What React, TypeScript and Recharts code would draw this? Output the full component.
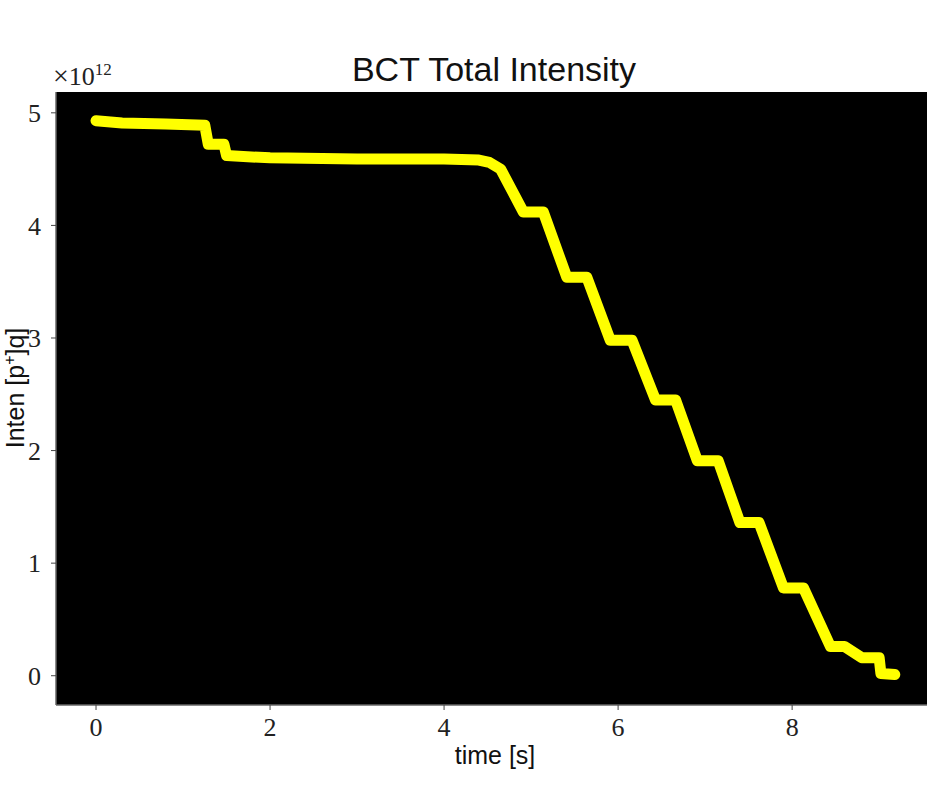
import React from 'react';
import { LineChart, Line, XAxis, YAxis, ReferenceArea } from 'recharts';

// beam current transformer readout, intensity in units of 1e12
const time = [0, 0.3, 0.8, 1.25, 1.29, 1.47, 1.5, 2, 3, 4, 4.4, 4.52, 4.65, 4.91, 5.14, 5.41, 5.64, 5.91, 6.16, 6.43, 6.66, 6.91, 7.15, 7.4, 7.62, 7.9, 8.13, 8.44, 8.6, 8.8, 9.0, 9.02, 9.18];
const intensity = [4.93, 4.91, 4.9, 4.89, 4.72, 4.72, 4.62, 4.6, 4.59, 4.59, 4.58, 4.56, 4.5, 4.12, 4.12, 3.54, 3.54, 2.98, 2.98, 2.45, 2.45, 1.91, 1.91, 1.36, 1.36, 0.78, 0.78, 0.26, 0.26, 0.16, 0.16, 0.02, 0.01];
const xTicks = [0, 2, 4, 6, 8];
const yTicks = [0, 1, 2, 3, 4, 5];

const xDomain = [-0.46, 9.55];
const yDomain = [-0.26, 5.185];

const data = time.map((t, i) => ({ t, v: intensity[i] }));

const serif = '"Liberation Serif", "DejaVu Serif", serif';
const sans = '"Liberation Sans", Arial, sans-serif';

const tickStyle = { fontFamily: serif, fontSize: 26, fill: '#222' };

const App = () => (
    <div style={{ position: 'absolute', left: 0, top: 0, width: 927, height: 785, overflow: 'hidden', background: '#fff' }}>
        <div style={{ position: 'absolute', left: 0, width: 988, top: 49, lineHeight: '40px', textAlign: 'center', fontFamily: sans, fontSize: 34, color: '#111' }}>
            BCT Total Intensity
        </div>
        <div style={{ position: 'absolute', left: 53, top: 61, lineHeight: '30px', whiteSpace: 'nowrap', fontFamily: serif, color: '#222' }}>
            <span style={{ fontSize: 28 }}>×</span>
            <span style={{ fontSize: 26 }}>10</span>
            <span style={{ fontSize: 17, position: 'relative', top: -10 }}>12</span>
        </div>
        <div style={{ position: 'absolute', left: 0, width: 990, top: 740, lineHeight: '30px', textAlign: 'center', fontFamily: sans, fontSize: 25, color: '#111' }}>
            time [s]
        </div>
        <div style={{ position: 'absolute', left: 15, top: 388, transform: 'translate(-50%, -50%) rotate(-90deg)', whiteSpace: 'nowrap', fontFamily: sans, fontSize: 25, color: '#111' }}>
            Inten [p<span style={{ fontSize: 16, position: 'relative', top: -9 }}>+</span>]q]
        </div>
        <LineChart width={927} height={785} data={data} margin={{ top: 92, right: 0, bottom: 0, left: 0 }}>
            <XAxis dataKey="t" type="number" domain={xDomain} ticks={xTicks} allowDataOverflow
                height={80} tick={tickStyle} tickSize={5} tickMargin={8}
                axisLine={{ stroke: '#666', strokeWidth: 1.5 }} tickLine={{ stroke: '#444' }} />
            <YAxis type="number" domain={yDomain} ticks={yTicks} allowDataOverflow
                width={56} tick={tickStyle} tickSize={5} tickMargin={10}
                axisLine={{ stroke: '#666', strokeWidth: 1.5 }} tickLine={{ stroke: '#444' }} />
            <ReferenceArea x1={xDomain[0]} x2={xDomain[1]} y1={yDomain[0]} y2={yDomain[1]} fill="#000" fillOpacity={1} stroke="none" />
            <Line dataKey="v" type="linear" stroke="#ffff00" strokeWidth={11} dot={false}
                strokeLinejoin="round" strokeLinecap="round" isAnimationActive={false} />
        </LineChart>
    </div>
);

export default App;
